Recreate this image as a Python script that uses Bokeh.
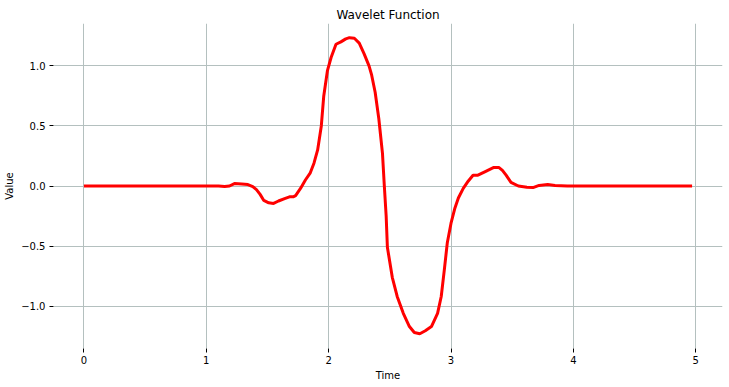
from bokeh.plotting import figure
from bokeh.models import Range1d, FixedTicker
from bokeh.embed import file_html
from bokeh.resources import INLINE

# Data
time = [0.00, 1.10, 1.15, 1.19, 1.23, 1.29, 1.34, 1.38, 1.41, 1.44, 1.47, 1.51,
        1.55, 1.59, 1.64, 1.68, 1.71, 1.73, 1.77, 1.81, 1.85, 1.88, 1.91, 1.94,
        1.96, 1.99, 2.02, 2.06, 2.10, 2.14, 2.17, 2.21, 2.25, 2.29, 2.33, 2.35,
        2.38, 2.41, 2.44, 2.455, 2.47, 2.48, 2.52, 2.56, 2.61, 2.66, 2.70, 2.745,
        2.79, 2.84, 2.89, 2.92, 2.945, 2.97, 3.00, 3.03, 3.06, 3.10, 3.14, 3.18,
        3.22, 3.28, 3.35, 3.39, 3.42, 3.45, 3.49, 3.55, 3.62, 3.67, 3.72, 3.79,
        3.85, 3.95, 4.97]
value = [0.0, 0.0, -0.005, 0.0, 0.02, 0.017, 0.012, -0.005, -0.03, -0.07, -0.12, -0.14,
         -0.145, -0.125, -0.105, -0.09, -0.09, -0.08, -0.02, 0.05, 0.11, 0.19, 0.30, 0.50,
         0.75, 0.96, 1.07, 1.18, 1.20, 1.225, 1.235, 1.23, 1.19, 1.10, 1.00, 0.93,
         0.78, 0.56, 0.27, 0.0, -0.25, -0.51, -0.76, -0.92, -1.06, -1.17, -1.22, -1.23,
         -1.205, -1.17, -1.06, -0.92, -0.70, -0.47, -0.31, -0.19, -0.10, -0.02, 0.04, 0.09,
         0.09, 0.12, 0.155, 0.155, 0.13, 0.09, 0.03, 0.0, -0.01, -0.013, 0.005, 0.012,
         0.005, 0.0, 0.0]

x_ticks = [0, 1, 2, 3, 4, 5]
y_ticks = [-1.0, -0.5, 0.0, 0.5, 1.0]
y_tick_labels = {-1.0: "\u22121.0", -0.5: "\u22120.5", 0.0: "0.0", 0.5: "0.5", 1.0: "1.0"}

FONT = "DejaVu Sans"

p = figure(width=729, height=387, output_backend="svg", toolbar_location=None,
           title="Wavelet Function",
           x_range=Range1d(-0.2485, 5.2185), y_range=Range1d(-1.353, 1.353),
           min_border_left=53, min_border_right=7, min_border_top=23, min_border_bottom=39)

p.line(time, value, line_color="#ff0000", line_width=3)

p.outline_line_color = None
p.background_fill_color = "white"
p.border_fill_color = "white"

p.title.text_font = FONT
p.title.text_font_size = "12px"
p.title.text_font_style = "normal"
p.title.align = "center"
p.title.text_color = "#000000"
p.title.standoff = 4

for ax in (p.xaxis[0], p.yaxis[0]):
    ax.axis_line_color = None
    ax.major_tick_in = 0
    ax.major_tick_out = 4
    ax.major_tick_line_color = "#000000"
    ax.minor_tick_line_color = None
    ax.major_label_text_font = FONT
    ax.major_label_text_font_size = "10px"
    ax.major_label_text_color = "#000000"
    ax.axis_label_text_font = FONT
    ax.axis_label_text_font_size = "10px"
    ax.axis_label_text_font_style = "normal"
    ax.axis_label_text_color = "#000000"

p.xaxis[0].ticker = FixedTicker(ticks=x_ticks)
p.yaxis[0].ticker = FixedTicker(ticks=y_ticks)
p.yaxis[0].major_label_overrides = y_tick_labels
p.xaxis[0].axis_label = "Time"
p.yaxis[0].axis_label = "Value"
p.xaxis[0].major_label_standoff = 3
p.yaxis[0].major_label_standoff = 4
p.xaxis[0].axis_label_standoff = 3
p.yaxis[0].axis_label_standoff = 3

p.grid.grid_line_color = "#b4c0bf"
p.grid.grid_line_width = 1

open("out.html", "w").write(file_html(p, INLINE))
